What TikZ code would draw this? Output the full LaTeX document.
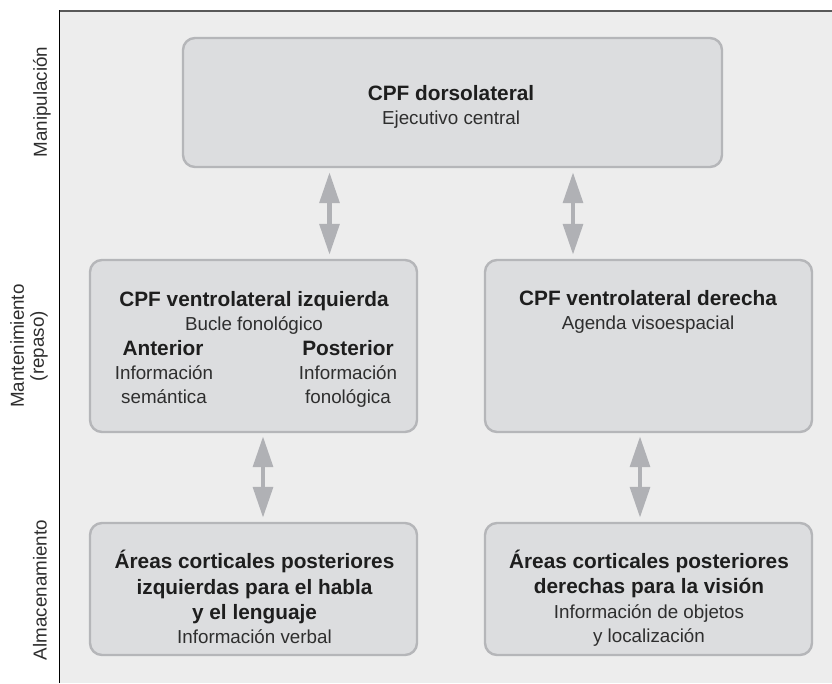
\documentclass[tikz,border=0pt]{standalone}
\usepackage{fontspec}
\setmainfont{Liberation Sans}
\usetikzlibrary{arrows.meta}
\definecolor{panelbg}{HTML}{EDEDED}
\definecolor{boxfill}{HTML}{DCDDDF}
\definecolor{boxline}{HTML}{B5B6B9}
\definecolor{arrowc}{HTML}{B0B1B5}
\definecolor{txtdark}{HTML}{1E1E1E}
\definecolor{txtreg}{HTML}{2E2E2E}
\tikzset{
  box/.style={draw=boxline, fill=boxfill, line width=2.4pt, rounded corners=12pt, inner sep=0pt},
  bt/.style={anchor=base, inner sep=0pt, font=\fontsize{20.8}{24}\selectfont\bfseries, text=txtdark},
  rt/.style={anchor=base, inner sep=0pt, font=\fontsize{18.8}{24}\selectfont, text=txtreg},
  side/.style={rotate=90, inner sep=0pt, font=\fontsize{18.8}{20}\selectfont, text=txtreg, align=center},
  dblarrow/.style={draw=arrowc, line width=4.7pt,
    {Triangle[width=19.5pt,length=31pt]}-{Triangle[width=19.5pt,length=31pt]}}
}
\begin{document}
\begin{tikzpicture}[x=1pt,y=-1pt]
\useasboundingbox (0,0) rectangle (832,683);
% panel
\fill[panelbg] (59.5,11) rectangle (832,683);
\draw[line width=2pt, color=black!65] (59.5,11) -- (832,11);
\draw[line width=1pt, color=black] (59.5,10) -- (59.5,683);
% side labels
\node[side] (lman) at (42,102) {Manipulación};
\node[side] (lmant) at (29,346) {Mantenimiento\\(repaso)};
\node[side] (lalm) at (40,590) {Almacenamiento};
% boxes
\node[box, minimum width=539pt, minimum height=129pt] (top) at (452.5,102.5) {};
\node[box, minimum width=327pt, minimum height=172pt] (ml) at (253.5,346) {};
\node[box, minimum width=327pt, minimum height=172pt] (mr) at (648.5,346) {};
\node[box, minimum width=327pt, minimum height=132pt] (bl) at (253.5,589) {};
\node[box, minimum width=327pt, minimum height=132pt] (br) at (648.5,589) {};
% top text
\node[bt] (t1) at (451,100.7) {CPF dorsolateral};
\node[rt] (t2) at (451,124) {Ejecutivo central};
% mid-left text
\node[bt] (ml1) at (254,306) {CPF ventrolateral izquierda};
\node[rt] (ml2) at (254,330) {Bucle fonológico};
\node[bt] (ml3) at (163,355) {Anterior};
\node[rt] (ml4) at (164,379) {Información};
\node[rt] (ml5) at (164,403) {semántica};
\node[bt] (ml6) at (348,355) {Posterior};
\node[rt] (ml7) at (348,379) {Información};
\node[rt] (ml8) at (348,403) {fonológica};
% mid-right text
\node[bt] (mr1) at (648,305) {CPF ventrolateral derecha};
\node[rt] (mr2) at (648,329) {Agenda visoespacial};
% bottom-left text
\node[bt] (bl1) at (254.5,568) {Áreas corticales posteriores};
\node[bt] (bl2) at (254.5,594) {izquierdas para el habla};
\node[bt] (bl3) at (254.5,619) {y el lenguaje};
\node[rt] (bl4) at (254.5,643) {Información verbal};
% bottom-right text
\node[bt] (br1) at (649,568) {Áreas corticales posteriores};
\node[bt] (br2) at (649,593) {derechas para la visión};
\node[rt] (br3) at (649,618) {Información de objetos};
\node[rt] (br4) at (649,642) {y localización};
% arrow x positions
\coordinate (ax1) at (329.5,0);
\coordinate (ax2) at (573,0);
\coordinate (ax3) at (263,0);
\coordinate (ax4) at (640,0);
% arrows
\draw[dblarrow, shorten <=4pt, shorten >=4pt] (top.south -| ax1) -- (ml.north -| ax1);
\draw[dblarrow, shorten <=4pt, shorten >=4pt] (top.south -| ax2) -- (mr.north -| ax2);
\draw[dblarrow, shorten <=3pt, shorten >=4pt] (ml.south -| ax3) -- (bl.north -| ax3);
\draw[dblarrow, shorten <=3pt, shorten >=4pt] (mr.south -| ax4) -- (br.north -| ax4);
\end{tikzpicture}
\end{document}
